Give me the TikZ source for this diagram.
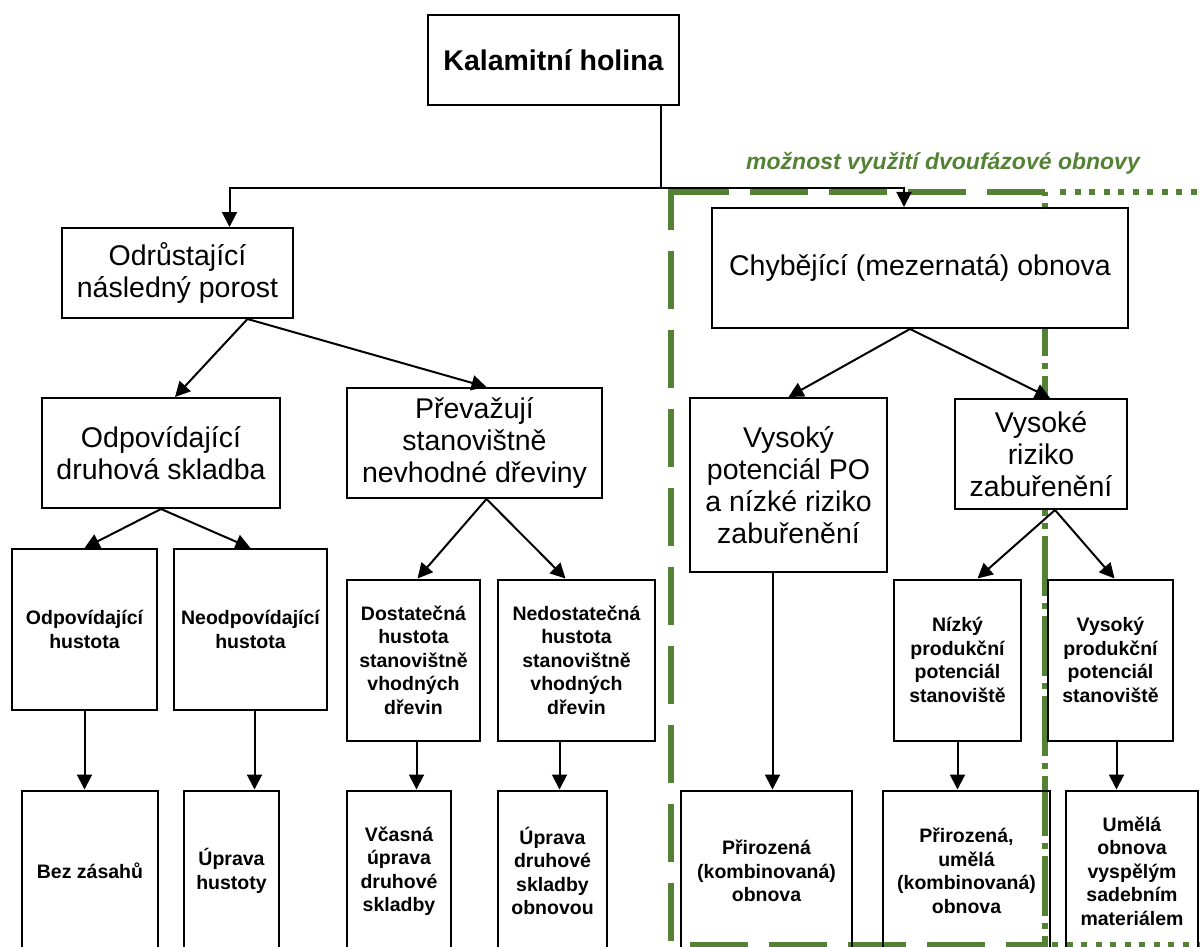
\documentclass[tikz,border=0pt]{standalone}
\usepackage{fontspec}
\setmainfont{Liberation Sans}
\usetikzlibrary{arrows.meta}
\definecolor{grn}{RGB}{84,130,53}
\newcommand{\bigtxt}{\fontsize{28.5}{32}\selectfont}
\newcommand{\smalltxt}{\fontsize{19.5}{23.5}\selectfont\bfseries}

\begin{document}
\begin{tikzpicture}[->,>={Triangle[length=15pt,width=15pt]},line width=2pt,
x=1pt,y=-1pt]
\tikzstyle{block}=[draw=black,align=center,inner sep=0pt,font=\bigtxt]
\tikzstyle{smallblock}=[block,font=\smalltxt,minimum height=161pt]
\tikzstyle{zone}=[-,draw=grn,line width=6pt]
\path[use as bounding box,clip] (0,0) rectangle (1200,947);

% zone of two-phase regeneration
\draw[zone,dash pattern=on 58pt off 21pt,dash phase=17pt] (671,189) -- (671,945);
\draw[zone,dash pattern=on 58pt off 21pt] (671,192) -- (1046,192);
\draw[zone,dash pattern=on 58pt off 21pt,dash phase=60pt] (671,945) -- (1046,945);
\draw[zone,dash pattern=on 6pt off 8.5pt] (1060,192) -- (1200,192);
\draw[zone,dash pattern=on 6pt off 8.5pt] (1052,945) -- (1200,945);
\draw[zone,dash pattern=on 60pt off 7pt on 6pt off 7pt,dash phase=56pt] (1045,192) -- (1045,947);
\node[text=grn,font=\fontsize{23}{26}\selectfont\bfseries\itshape] (zonelabel) at (943,163)
  {možnost využití dvoufázové obnovy};

\node[block,font=\bigtxt\bfseries,minimum width=251pt,minimum height=90pt] (kal) at (553.5,60) {Kalamitní holina};
\node[block,minimum width=231pt,minimum height=90pt] (odr) at (177.5,273) {Odrůstající\\následný porost};
\node[block,fill=white,minimum width=416pt,minimum height=120pt] (chyb) at (920,268) {Chybějící (mezernatá) obnova};
\node[block,minimum width=238pt,minimum height=110pt] (odpds) at (161,453) {Odpovídající\\druhová skladba};
\node[block,minimum width=255pt,minimum height=110pt] (prev) at (474.5,443) {Převažují\\stanovištně\\nevhodné dřeviny};
\node[block,minimum width=197pt,minimum height=174pt] (vpo) at (788.5,485) {Vysoký\\potenciál PO\\a nízké riziko\\zabuřenění};
\node[block,fill=white,minimum width=172pt,minimum height=110pt] (vrz) at (1041,454) {Vysoké\\riziko\\zabuřenění};

\node[smallblock,minimum width=145pt] (odph) at (84.5,629.5) {Odpovídající\\hustota};
\node[smallblock,minimum width=153pt] (neodph) at (250.5,629.5) {Neodpovídající\\hustota};
\node[smallblock,minimum width=133pt] (dost) at (413.5,660) {Dostatečná\\hustota\\stanovištně\\vhodných\\dřevin};
\node[smallblock,minimum width=157pt] (nedost) at (576.5,660) {Nedostatečná\\hustota\\stanovištně\\vhodných\\dřevin};
\node[smallblock,minimum width=127pt] (nizky) at (957.5,660) {Nízký\\produkční\\potenciál\\stanoviště};
\node[smallblock,minimum width=125pt] (vysprod) at (1110.5,660) {Vysoký\\produkční\\potenciál\\stanoviště};

\node[smallblock,minimum width=136pt] (bez) at (90,871) {Bez zásahů};
\node[smallblock,minimum width=95pt] (uphust) at (231.5,871) {Úprava\\hustoty};
\node[smallblock,minimum width=104pt] (vcas) at (399,871) {Včasná\\úprava\\druhové\\skladby};
\node[smallblock,minimum width=109pt] (updr) at (552.5,871) {Úprava\\druhové\\skladby\\obnovou};
\node[smallblock,minimum width=171pt] (prir) at (766.5,871) {Přirozená\\(kombinovaná)\\obnova};
\node[smallblock,minimum width=167pt] (prirum) at (966.5,871) {Přirozená,\\umělá\\(kombinovaná)\\obnova};
\node[smallblock,minimum width=132pt] (umela) at (1132,871) {Umělá\\obnova\\vyspělým\\sadebním\\materiálem};

\coordinate (fork) at (661,188);
\draw[-] (kal.south -| fork) -- (fork);
\draw (fork) -| ([xshift=52pt]odr.north);
\draw (fork) -| ([xshift=-16pt]chyb.north);

\path ([xshift=70pt]odr.south) edge ([xshift=14pt]odpds.north)
                               edge ([xshift=12pt]prev.north)
      ([xshift=-10pt]chyb.south) edge (vpo.north)
                                 edge ([xshift=9pt]vrz.north)
      (odpds.south) edge (odph.north)
                    edge (neodph.north)
      ([xshift=12pt]prev.south) edge ([xshift=4pt]dost.north)
                                edge ([xshift=-11pt]nedost.north)
      ([xshift=14pt]vrz.south) edge ([xshift=20pt]nizky.north)
                               edge ([xshift=4pt]vysprod.north);

\draw (odph.south) -- (odph.south |- bez.north);
\draw ([xshift=4pt]neodph.south) -- ([xshift=4pt]neodph.south |- uphust.north);
\draw ([xshift=3pt]dost.south) -- ([xshift=3pt]dost.south |- vcas.north);
\draw ([xshift=-17pt]nedost.south) -- ([xshift=-17pt]nedost.south |- updr.north);
\draw ([xshift=-16pt]vpo.south) -- ([xshift=-16pt]vpo.south |- prir.north);
\draw (nizky.south) -- (nizky.south |- prirum.north);
\draw ([xshift=6pt]vysprod.south) -- ([xshift=6pt]vysprod.south |- umela.north);

\end{tikzpicture}
\end{document}
